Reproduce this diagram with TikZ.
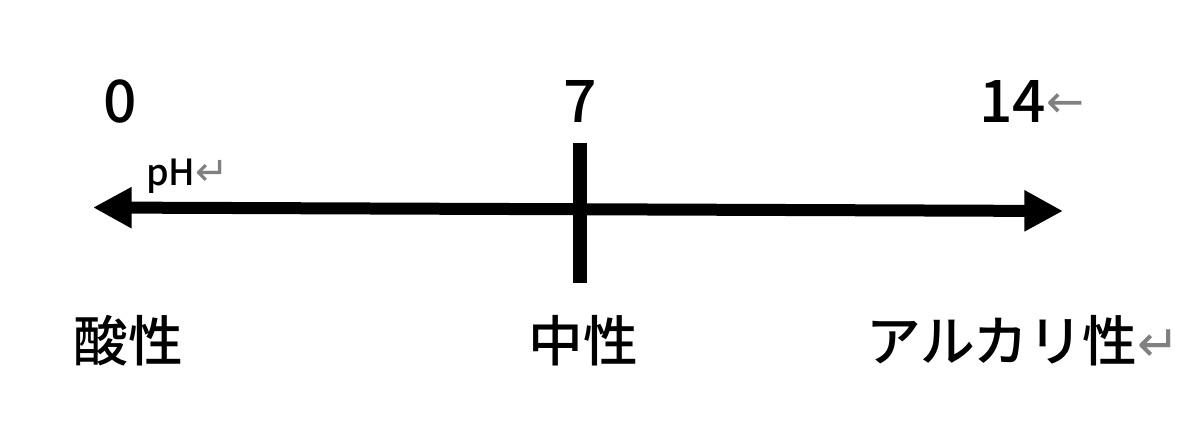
\documentclass[tikz,border=0pt]{standalone}
\usepackage{fontspec}
\setmainfont{Noto Sans CJK JP}[BoldFont={Noto Sans CJK JP Medium}]
\newfontfamily\markfont{DejaVu Sans}
\usetikzlibrary{arrows.meta}
\usetikzlibrary{positioning}
\newcommand{\retmark}[2]{{\markfont\mdseries\color{gray}\fontsize{#1}{#1}\selectfont #2}}
\tikzstyle{value} = [inner sep=0pt, font=\fontsize{44}{48}\selectfont\bfseries]
\tikzstyle{nature} = [inner sep=0pt, font=\fontsize{41}{46}\selectfont\bfseries]
\tikzstyle{unit} = [inner sep=0pt, font=\fontsize{27}{30}\selectfont\bfseries]
\tikzstyle{scaleline} = [line width=9pt, {Triangle[length=29pt,width=29pt]}-{Triangle[length=29pt,width=29pt]}]
\tikzstyle{neutralmark} = [line width=10pt]

\begin{document}
\begin{tikzpicture}[x=0.75pt, y=-0.75pt]
\useasboundingbox (0,0) rectangle (1200,431);

% pH scale
\coordinate (lefttip) at (93,207.5);
\coordinate (righttip) at (1063,211);
\draw [scaleline] (lefttip) -- (righttip);
\coordinate (ticktop) at (580,143);
\coordinate (tickbottom) at (580,283);
\draw [neutralmark] (ticktop) -- (tickbottom);

% values
\node (num0) [value, anchor=base] at (120,123) {0};
\node (num7) [value, anchor=base] at (580,123) {7};
\node (num14) [value, anchor=base west] at (979,123) {14\raisebox{4pt}{\retmark{34}{←}}};
\node (phlabel) [unit, anchor=base west] at (146,186) {pH\retmark{30}{↵}};

% natures
\node (acid) [nature, anchor=base] at (128,361) {酸性};
\node (neutral) [nature, anchor=base] at (583,361) {中性};
\node (alkali) [nature, anchor=base west] at (866,361) {アルカリ性\retmark{38}{↵}};
\end{tikzpicture}
\end{document}
